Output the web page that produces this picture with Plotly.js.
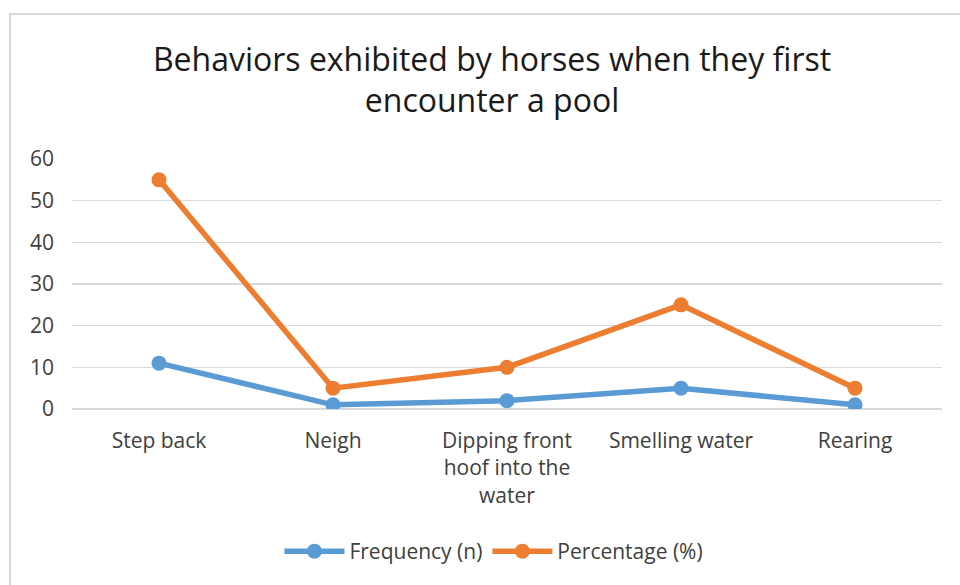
<!DOCTYPE html>
<html>
<head>
<meta charset="utf-8">
<script src="https://cdn.plot.ly/plotly-3.0.1.min.js"></script>
<style>html,body{margin:0;padding:0;background:#fff;}#chart{width:960px;height:585px;}</style>
</head>
<body>
<div id="chart"></div>
<script>
var categories = ["Step back", "Neigh", "Dipping front<br>hoof into the<br>water", "Smelling water", "Rearing"];
var frequency = [11, 1, 2, 5, 1];
var percentage = [55, 5, 10, 25, 5];
var yTicks = [0, 10, 20, 30, 40, 50, 60];

var FONT = "Open Sans, Noto Sans, sans-serif";
var TXT = "#404040";

var traces = [
  {x: categories, y: frequency, name: "Frequency (n)", type: "scatter", mode: "lines+markers",
   line: {color: "#5B9BD5", width: 5.5}, marker: {color: "#5B9BD5", size: 15}},
  {x: categories, y: percentage, name: "Percentage (%)", type: "scatter", mode: "lines+markers",
   line: {color: "#ED7D31", width: 5.5}, marker: {color: "#ED7D31", size: 15}}
];

var layout = {
  width: 960, height: 585,
  margin: {l: 72, r: 18, t: 159, b: 176},
  paper_bgcolor: "#fff", plot_bgcolor: "#fff",
  font: {family: FONT, color: TXT, size: 21},
  title: {text: "Behaviors exhibited by horses when they first<br>encounter a pool",
          font: {family: FONT, size: 32, color: "#1a1a1a"},
          x: 0.5125, xref: "container", xanchor: "center",
          y: 0.879, yref: "container", yanchor: "middle"},
  showlegend: true,
  legend: {orientation: "h", x: 0.485, xanchor: "center", y: -0.57, yanchor: "middle",
           font: {family: FONT, size: 21, color: TXT}, itemwidth: 60},
  xaxis: {type: "category", range: [-0.5, 4.5], showgrid: false, zeroline: false, showline: false,
          ticks: "", ticklabelstandoff: 17, tickfont: {family: FONT, size: 21, color: TXT},
          fixedrange: true},
  yaxis: {range: [0, 60], tickvals: yTicks, ticktext: yTicks.map(String),
          showgrid: true, gridcolor: "#d9d9d9", gridwidth: 1.5,
          zeroline: true, zerolinecolor: "#d9d9d9", zerolinewidth: 1.5, showline: false,
          ticks: "", ticklabelstandoff: 17, tickfont: {family: FONT, size: 21, color: TXT},
          fixedrange: true},
  shapes: [{type: "rect", xref: "paper", yref: "paper",
            x0: -0.0713, x1: 1.04, y0: -0.8, y1: 1.58,
            line: {color: "#d9d9d9", width: 2}, fillcolor: "rgba(0,0,0,0)", layer: "below"}]
};

Plotly.newPlot("chart", traces, layout, {displayModeBar: false, staticPlot: true});
</script>
</body>
</html>
